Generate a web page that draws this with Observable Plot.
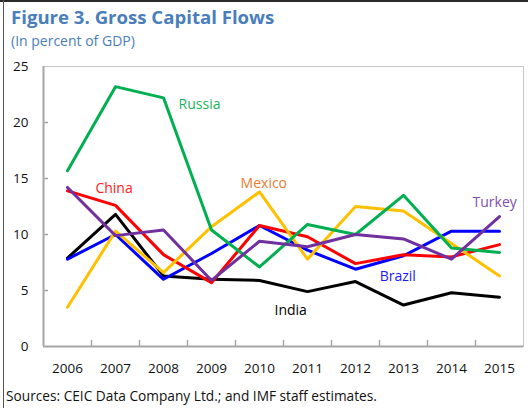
<!DOCTYPE html>
<html>
<head>
<meta charset="utf-8">
<script src="https://cdn.jsdelivr.net/npm/d3@7"></script>
<script src="https://cdn.jsdelivr.net/npm/@observablehq/plot@0.6"></script>
<style>
  html, body { margin: 0; padding: 0; background: #fff; }
  #fig { position: relative; width: 528px; height: 408px; overflow: hidden; font-family: "Open Sans", sans-serif; }
  #btop { position: absolute; left: 0; top: 0; width: 528px; height: 2px; background: #2b2b2b; }
  #bleft { position: absolute; left: 3px; top: 0; width: 1px; height: 408px; background: #555; }
  #title { position: absolute; left: 11px; top: 4px; font-size: 18.6px; font-weight: 700; color: #4a7ebb; line-height: 26px; white-space: nowrap; }
  #subtitle { position: absolute; left: 11px; top: 31px; font-size: 14px; color: #4a7ebb; line-height: 19px; white-space: nowrap; }
  #chart { position: absolute; left: 0; top: 52px; }
  #source { position: absolute; left: 6px; top: 386px; font-size: 13.7px; color: #111; line-height: 19px; white-space: nowrap; }
</style>
</head>
<body>
<div id="fig">
  <div id="btop"></div>
  <div id="bleft"></div>
  <div id="title">Figure 3. Gross Capital Flows</div>
  <div id="subtitle">(In percent of GDP)</div>
  <div id="chart"></div>
  <div id="source">Sources: CEIC Data Company Ltd.; and IMF staff estimates.</div>
</div>
<script>
// ---- data ----
const years = [2006, 2007, 2008, 2009, 2010, 2011, 2012, 2013, 2014, 2015];
const countries = ["India", "Brazil", "China", "Mexico", "Russia", "Turkey"];
const india  = [7.9, 11.8, 6.3, 6.0, 5.9, 4.9, 5.8, 3.7, 4.8, 4.4];
const brazil = [7.8, 10.0, 6.0, 8.3, 10.8, 8.6, 6.9, 8.1, 10.3, 10.3];
const china  = [13.9, 12.6, 8.2, 5.7, 10.8, 9.8, 7.4, 8.2, 8.0, 9.1];
const mexico = [3.5, 10.3, 6.6, 10.7, 13.8, 7.8, 12.5, 12.1, 9.2, 6.3];
const russia = [15.7, 23.2, 22.2, 10.4, 7.1, 10.9, 10.0, 13.5, 8.8, 8.4];
const turkey = [14.2, 9.9, 10.4, 5.9, 9.4, 8.9, 10.0, 9.6, 7.8, 11.6];
const yTicks = [0, 5, 10, 15, 20, 25];
// label anchors (year position, value)
const labelNames = ["Russia", "China", "Mexico", "Turkey", "Brazil", "India"];
const labelYear  = [2008.75, 2006.97, 2010.09, 2014.9, 2012.88, 2010.65];
const labelValue = [21.6, 14.1, 14.55, 12.85, 6.25, 3.2];

// ---- build ----
const seriesValues = { India: india, Brazil: brazil, China: china, Mexico: mexico, Russia: russia, Turkey: turkey };
const lineColor = { India: "#000000", Brazil: "#0000ff", China: "#ff0000", Mexico: "#ffc000", Russia: "#00b050", Turkey: "#7030a0" };
const labelColor = { India: "#000000", Brazil: "#1a1aff", China: "#ff2020", Mexico: "#e97c30", Russia: "#1db35a", Turkey: "#7f4fb0" };

const rows = countries.flatMap(c => years.map((y, i) => ({ country: c, year: y, value: seriesValues[c][i] })));
const labels = labelNames.map((n, i) => ({ name: n, year: labelYear[i], value: labelValue[i] }));
const xDomain = [years[0] - 0.5, years[years.length - 1] + 0.5];
const boundaries = years.slice(0, -1).map(y => y + 0.5);

const chart = Plot.plot({
  width: 528,
  height: 330,
  marginTop: 14,
  marginBottom: 36,
  marginLeft: 43,
  marginRight: 5,
  style: { fontFamily: "Open Sans, sans-serif", fontSize: "13.5px", color: "#111", background: "transparent" },
  x: { type: "linear", domain: xDomain, label: null },
  y: { domain: [0, 25], label: null },
  marks: [
    Plot.frame({ stroke: "#c8c8c8", strokeWidth: 1 }),
    Plot.ruleX([xDomain[0]], { stroke: "#a6a6a6", strokeWidth: 2 }),
    Plot.ruleY([0], { stroke: "#a6a6a6", strokeWidth: 2 }),
    Plot.axisY(yTicks.slice(1, -1), { tickSize: 5, dx: 5, tickFormat: () => "", label: null, stroke: "#a6a6a6", strokeWidth: 1.5 }),
    Plot.axisY(yTicks, { tickSize: 0, tickPadding: 15, tickFormat: d => String(d), label: null, fill: "#111" }),
    Plot.axisX(boundaries, { tickSize: 6, dy: -6, tickFormat: () => "", label: null, stroke: "#a6a6a6", strokeWidth: 1.5 }),
    Plot.axisX(years, { tickSize: 0, tickPadding: 17, tickFormat: d => String(d), label: null, fill: "#111" }),
    ...countries.map(c => Plot.lineY(rows.filter(r => r.country === c), {
      x: "year", y: "value", stroke: lineColor[c], strokeWidth: 3, strokeLinejoin: "round", strokeLinecap: "round"
    })),
    Plot.text(labels, { x: "year", y: "value", text: "name", fill: d => labelColor[d.name], fontSize: 14 })
  ]
});
document.getElementById("chart").appendChild(chart);
</script>
</body>
</html>
